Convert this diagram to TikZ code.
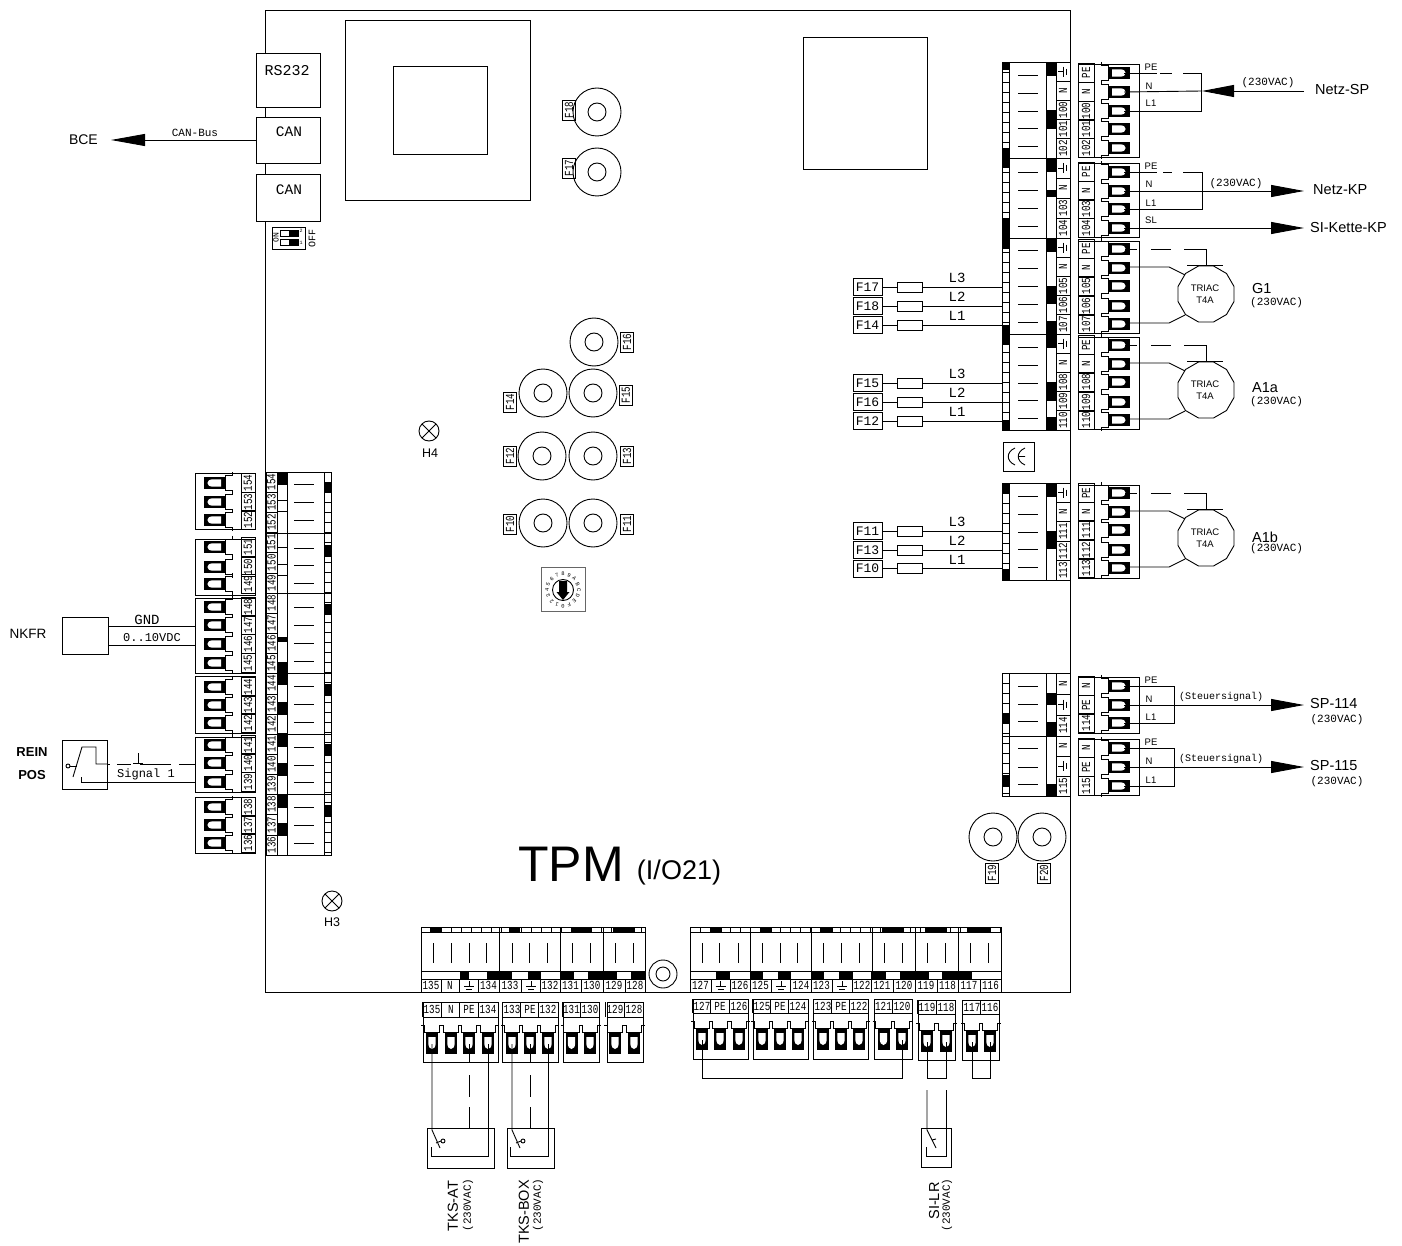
\documentclass[tikz,border=0pt]{standalone}
\usepackage{fontspec}
\setmainfont{Liberation Sans}
\newfontfamily\txtf{Liberation Mono}
\newfontfamily\txtn[FakeStretch=0.75]{Liberation Mono}
\usetikzlibrary{arrows.meta,shapes.geometric}
\newcounter{nn}
\tikzset{
  ln/.style={line width=0.9pt,black},
  bx/.style={ln,fill=white},
  num/.style={font=\txtn\fontsize{12.3}{12.3}\selectfont,inner sep=0pt,text=black},
  numr/.style={num,rotate=90},
  tx/.style={font=\txtf\fontsize{#1}{#1}\selectfont,inner sep=0pt,text=black},
  sa/.style={font=\fontsize{#1}{#1}\selectfont,inner sep=0pt,text=black},
  bigarrow/.style={ln,-{Triangle[length=33pt,width=12pt]}},
}
% generic named text
\newcommand\lab[4][]{\stepcounter{nn}\node[#1] (n\arabic{nn}) at (#2,#3) {#4};}
% terminals
\newcommand\termR[1]{%
  \fill[black] (1108,#1-6) rectangle (1130,#1+6);
  \fill[white] (1112,#1-3.7) -- (1120,#1-3.7) .. controls (1127.5,#1-3.7) and (1127.5,#1+3.7) .. (1120,#1+3.7) -- (1112,#1+3.7) -- cycle;
  \draw[ln] (1101,#1-11.1) -- (1101,#1-7.6) -- (1108,#1-7.6) -- (1108,#1+7.6) -- (1101,#1+7.6) -- (1101,#1+11.1);
  \coordinate (R#1) at (1124,#1);}
\newcommand\termL[1]{%
  \fill[black] (204,#1-6) rectangle (225,#1+6);
  \fill[white] (221,#1-3.7) -- (213,#1-3.7) .. controls (205.5,#1-3.7) and (205.5,#1+3.7) .. (213,#1+3.7) -- (221,#1+3.7) -- cycle;
  \draw[ln] (232,#1-11.1) -- (232,#1-7.6) -- (225,#1-7.6) -- (225,#1+7.6) -- (232,#1+7.6) -- (232,#1+11.1);}
\newcommand\termB[2]{% x, ytop
  \fill[black] (#1-6,#2) rectangle (#1+6,#2+22);
  \fill[white] (#1-3.7,#2+5) -- (#1-3.7,#2+11) .. controls (#1-3.7,#2+19) and (#1+3.7,#2+19) .. (#1+3.7,#2+11) -- (#1+3.7,#2+5) -- cycle;
  \draw[ln] (#1-11,#2-7) -- (#1-7.6,#2-7) -- (#1-7.6,#2) -- (#1+7.6,#2) -- (#1+7.6,#2-7) -- (#1+11,#2-7);
  \coordinate (B#1) at (#1,#2+12);}
% right plug: y0 y1 items
\newcommand\RP[3]{%
  \draw[bx] (1078,#1) rectangle (1139,#2);
  \foreach \yc/\l in {#3}{
    \draw[ln] (1078,\yc-9.4) rectangle (1094,\yc+9.4);
    \lab[numr]{1086}{\yc}{\l}
    \termR{\yc}
  }}
\newcommand\LP[3]{%
  \draw[bx] (195,#1) rectangle (255,#2);
  \foreach \yc/\l in {#3}{
    \draw[ln] (241,\yc-9.3) rectangle (255,\yc+9.3);
    \lab[numr]{248}{\yc}{\l}
    \termL{\yc}
  }}
% bottom plug: x0 x1 y0 y1 ylab ytop items
\newcommand\BP[7]{%
  \draw[bx] (#1,#3) rectangle (#2,#4);
  \draw[ln] (#1,#5) -- (#2,#5);
  \foreach \xc/\l in {#7}{
    \draw[ln] (\xc-9.2,#3) -- (\xc-9.2,#5);
    \lab[num]{\xc}{{(#3+#5)/2}}{\l}
    \termB{\xc}{#6}
  }}
% earth symbols
\newcommand\gndh[2]{\draw[ln] (#1-4,#2) -- (#1+1,#2) (#1+1,#2-5) -- (#1+1,#2+5) (#1+4,#2-3) -- (#1+4,#2+3);}
\newcommand\gndv[2]{\draw[ln] (#1,#2-4) -- (#1,#2+1) (#1-5,#2+1) -- (#1+5,#2+1) (#1-3,#2+4) -- (#1+3,#2+4);}
% fuse disc
\newcommand\disc[5]{% x y flabelx flabely text
  \draw[ln] (#1,#2) circle (24) (#1,#2) circle (9);
  \lab[numr,draw=black,line width=0.9pt,minimum width=20pt,minimum height=13pt,inner sep=0pt]{#3}{#4}{#5}}
% side fuse row
\newcommand\fuse[2]{% y, label
  \stepcounter{nn}\node[tx=13,draw=black,line width=0.9pt,fill=white,minimum width=29pt,minimum height=17pt] (f#2) at (867.5,#1) {#2};
  \coordinate (fe#2) at (1002,#1);
  \draw[ln] (f#2) -- (fe#2);
  \draw[bx] (897,#1-5) rectangle (922,#1+5);}
\begin{document}
\begin{tikzpicture}[x=1pt,y=-1pt]
\useasboundingbox (0,0) rectangle (1402,1246);
\fill[white] (0,0) rectangle (1402,1246);
% board
\draw[ln] (265.5,10) rectangle (1070,992);
% top-left connectors
\node[draw=black,line width=0.9pt,fill=white,minimum width=64pt,minimum height=54pt,tx=15,inner sep=0pt] (rs) at (288,80) {};
\lab[tx=15]{287}{71}{RS232}
\node[draw=black,line width=0.9pt,fill=white,minimum width=64pt,minimum height=46pt] (can1) at (288,140) {};
\lab[tx=14.5]{289}{132}{CAN}
\node[draw=black,line width=0.9pt,fill=white,minimum width=64pt,minimum height=47pt] (can2) at (288,197.5) {};
\lab[tx=14.5]{289}{190}{CAN}
% BCE
\lab[sa=14,anchor=east]{98}{140}{BCE}
\coordinate (bcetip) at (111,140);
\draw[ln,-{Triangle[length=34pt,width=12pt]}] (can1.west) -- (bcetip);
\lab[tx=11]{195}{133}{CAN-Bus}
% dip
\draw[ln,fill=white] (272,227) rectangle (305,249);
\foreach \y in {233,242}{
  \draw[ln] (280,\y-3) rectangle (298,\y+3);
  \fill[black] (289,\y-3) rectangle (298,\y+3);}
\lab[tx=8,rotate=90]{276}{238}{ON}
\lab[tx=10,rotate=90]{312}{238}{OFF}
\lab[tx=5]{301}{231}{2}
\lab[tx=5]{301}{243}{1}
% transformers
\draw[ln] (345,20) rectangle (530,200);
\draw[ln] (393,66) rectangle (487,154);
\draw[ln] (803,37) rectangle (927,169);
% discs
\disc{597}{112}{569}{110}{F18}
\disc{597}{172}{569}{168}{F17}
\disc{594}{342}{627}{342}{F16}
\disc{543}{393}{510}{402}{F14}
\disc{593}{393}{626}{395}{F15}
\disc{542}{456}{510}{456}{F12}
\disc{593}{456}{627}{456}{F13}
\disc{543}{523}{510}{524}{F10}
\disc{593}{523}{627}{524}{F11}
\disc{993}{837}{992}{873}{F19}
\disc{1042}{837}{1044}{873}{F20}
% lamps
\draw[ln] (429,431) circle (10) (421.9,423.9) -- (436.1,438.1) (421.9,438.1) -- (436.1,423.9);
\lab[sa=12.5]{430}{453}{H4}
\draw[ln] (332,901) circle (10) (324.9,893.9) -- (339.1,908.1) (324.9,908.1) -- (339.1,893.9);
\lab[sa=12.5]{332}{922}{H3}
% rotary
\draw[ln,black!60] (541,567) rectangle (585,611);
\draw[ln] (563,590) circle (10.5);
\foreach \i/\c in {0/0,1/1,2/2,3/3,4/4,5/5,6/6,7/7,8/8,9/9,10/A,11/B,12/C,13/D,14/E,15/F}{
  \pgfmathsetmacro\a{270-\i*22.5}
  \pgfmathsetmacro\rr{\a-90}
  \lab[tx=5.5,rotate=\rr]{{563+16*cos(\a)}}{{590-16*sin(\a)}}{\c}
}
\fill[black] (559,581) rectangle (567,592) (556.5,592) -- (569.5,592) -- (563,600) -- cycle;
% CE
\draw[ln] (1003,442) rectangle (1034,471);
\draw[ln] (1015,448) .. controls (1006,452) and (1006,461) .. (1015,465);
\draw[ln] (1025,448) .. controls (1016,452) and (1016,461) .. (1025,465) (1019,456.5) -- (1025,456.5);
% TPM
\lab[sa=50]{571}{864}{TPM}
\lab[sa=27]{679}{873}{(I/O21)}
\draw[ln] (663,974) circle (14) (663,974) circle (7);

% ---------- right board blocks
\foreach \a/\b in {62/158,158/238,238/334,334/430,483/580,673/736,736/796}{
  \draw[bx] (1002,\a) rectangle (1070,\b);
  \draw[ln] (1009,\a) -- (1009,\b) (1046,\a) -- (1046,\b) (1056,\a) -- (1056,\b);
}
\foreach \a/\b in {62/430,483/580,673/796}{
  \pgfmathsetmacro\sec{\a+10}
  \foreach \y in {\a,\sec,...,\b}{\draw[line width=0.5pt] (1002,\y) -- (1009,\y);}
}
\foreach \a/\b in {62/70,148/168,218/249,325/345,420/430,483/493,569/580,713/723,775/787}{
  \fill[black] (1002,\a) rectangle (1009,\b);}
\foreach \a/\b in {62/76,110/129,159/172,190/197,238/252,286/304,321/348,382/401,417/430,483/497,531/549,693/705,722/736,784/796}{
  \fill[black] (1046,\a) rectangle (1056,\b);}
\foreach \y in {75,93,111,128,146,172,190,208,226,250,268,286,304,322,347,365,383,400,418,496,514,532,549,567,686,704,721,748,767,784}{
  \draw[ln] (1018,\y) -- (1038,\y);}
\foreach \y/\h in {71.6/9.6,90.8/9.6,110/9.6,129.2/9.6,148.4/9.6,168/10,188/10,208/10,228/10,247.6/9.6,266.8/9.6,286/9.6,305.2/9.6,324.4/9.6,343.6/9.6,362.8/9.6,382/9.6,401.2/9.6,420.4/9.6,492.7/9.7,512.1/9.7,531.5/9.7,550.9/9.7,570.3/9.7,683.5/10.5,704.5/10.5,725.5/10.5,746/10,766/10,786/10}{
  \draw[ln] (1056,\y-\h) rectangle (1070,\y+\h);}
\foreach \y/\l in {90.8/N,110/100,129.2/101,148.4/102,188/N,208/103,228/104,266.8/N,286/105,305.2/106,324.4/107,362.8/N,382/108,401.2/109,420.4/110,512.1/N,531.5/111,550.9/112,570.3/113,683.5/N,725.5/114,746/N,786/115}{
  \lab[numr]{1063}{\y}{\l}}
\foreach \y in {71.6,168,247.6,343.6,492.7,704.5,766}{\gndh{1062}{\y}}

% ---------- right plugs
\RP{64}{157}{73/PE,92/N,111/100,129/101,148/102}
\RP{163}{237}{172/PE,191/N,209/103,228/104}
\RP{241}{333}{249/PE,268/N,286/105,306/106,324/107}
\RP{337}{429}{345/PE,364/N,382/108,402/109,420/110}
\RP{485}{578}{493/PE,512/N,530/111,550/112,568/113}
\RP{677}{733}{686/N,705/PE,723/114}
\RP{739}{795}{748/N,767/PE,786/115}

% right side wires
% Netz-SP
\lab[sa=14.5,anchor=west]{1315}{90}{Netz-SP}
\coordinate (sp) at (1304,91); \coordinate (sptip) at (1202,91);
\draw[ln] (R92) -- (sptip);
\draw[ln,-{Triangle[length=32pt,width=12pt]}] (sp) -- (sptip);
\draw[ln] (R73) -- (1157,73) (1160,73) -- (1172,73) (1183,73) -- (1201,73) -- (1201,111) -- (R111);
\lab[sa=9.5]{1151}{67}{PE}\lab[sa=9.5]{1149}{86}{N}\lab[sa=9.5]{1151}{103}{L1}
\lab[tx=11]{1268}{83}{(230VAC)}
% Netz-KP
\lab[sa=14.5,anchor=west]{1313}{190}{Netz-KP}
\lab[sa=14.5,anchor=west]{1310}{228}{SI-Kette-KP}
\coordinate (kp) at (1304,191); \coordinate (si) at (1304,228);
\draw[bigarrow] (R191) -- (kp);
\draw[bigarrow] (R228) -- (si);
\draw[ln] (R172) -- (1157,172) (1163,172) -- (1172,172) (1183,172) -- (1202,172) -- (1202,209) -- (R209);
\lab[sa=9.5]{1151}{166}{PE}\lab[sa=9.5]{1149}{184}{N}\lab[sa=9.5]{1151}{203}{L1}\lab[sa=9.5]{1151}{220}{SL}
\lab[tx=11]{1236}{184}{(230VAC)}
% motors
\foreach \dy/\nm/\ty/\vy in {0/G1/289/303,96/A1a/388/402,244/A1b/537/549}{
  \pgfmathsetmacro\cy{294+\dy}
  \node[regular polygon,regular polygon sides=12,draw=black,line width=0.9pt,minimum size=58pt,inner sep=0pt] (m\nm) at (1206,\cy) {};
  \lab[sa=9.5]{1205}{\cy-6}{TRIAC}
  \lab[sa=9.5]{1205}{\cy+6}{T4A}
  \lab[sa=14.5,anchor=west]{1252}{\ty}{\nm}
  \lab[tx=11,anchor=west]{1250}{\vy}{(230VAC)}
  \draw[ln] (1125,\cy-45) -- (1137,\cy-45) (1151,\cy-45) -- (1171,\cy-45) (1184,\cy-45) -- (1206,\cy-45) -- (1206,\cy-29) (1187,\cy-29) -- (1223,\cy-29);
  \draw[ln] (1125,\cy-27) -- (1169,\cy-27) -- (1185,\cy-19);
  \draw[ln] (1125,\cy+29) -- (1169,\cy+29) -- (1185,\cy+21);
}
% SP-114/115
\foreach \a/\b/\c/\n in {686/705/723/114,748/767/786/115}{
  \coordinate (e\n) at (1304,\b);
  \draw[bigarrow] (R\b) -- (e\n);
  \draw[ln] (R\a) -- (1174,\a) -- (1174,\c) -- (R\c);
  \lab[sa=9.5]{1151}{\a-6}{PE}\lab[sa=9.5]{1149}{\b-6}{N}\lab[sa=9.5]{1151}{\c-6}{L1}
  \lab[tx=10]{1221}{\b-8}{(Steuersignal)}
  \lab[sa=14.5,anchor=west]{1310}{\b-1}{SP-\n}
  \lab[tx=11]{1337}{\b+15}{(230VAC)}
}
% side fuses
\fuse{287}{F17}\fuse{306}{F18}\fuse{325}{F14}
\fuse{383}{F15}\fuse{402}{F16}\fuse{421}{F12}
\fuse{531}{F11}\fuse{550}{F13}\fuse{568.5}{F10}
\foreach \y in {287,383,531}{
  \lab[tx=14]{957}{\y-9}{L3}
  \lab[tx=14]{957}{\y+10}{L2}
  \lab[tx=14]{957}{\y+29}{L1}}

% ---------- left board
\draw[bx] (266,472) rectangle (331,855);
\draw[ln] (277,472) -- (277,855) (287,472) -- (287,855) (324,472) -- (324,855);
\foreach \y in {533,593,673.5,734,794.5}{\draw[ln] (266,\y) -- (331,\y);}
\foreach \y in {472,482,...,855}{\draw[line width=0.5pt] (324,\y) -- (331,\y);}
\foreach \y in {500.7,511.7,547,564,575.7}{\draw[line width=0.5pt] (277,\y) -- (287,\y);}
\foreach \a/\b in {472/485,637/642,662/685,702/715,733/747,763/776,794/808,823/836}{
  \fill[black] (277,\a) rectangle (287,\b);}
\foreach \a/\b in {482/493,545/557,604/615,684/696,744/756,805/817}{
  \fill[black] (324,\a) rectangle (331,\b);}
\foreach \y in {484,502,520,548,565,583,607,625,643,661,686,704,722,747,765,782,807,825,843}{
  \draw[ln] (294,\y) -- (314,\y);}
\foreach \i/\l in {0/154,1/153,2/152,3/151,4/150,5/149,6/148,7/147,8/146,9/145,10/144,11/143,12/142,13/141,14/140,15/139,16/138,17/137,18/136}{
  \pgfmathsetmacro\yy{472+20.16*\i+10.08}
  \pgfmathsetmacro\yt{472+20.16*\i}
  \draw[line width=0.5pt] (266,\yt) -- (277,\yt);
  \lab[numr]{271.5}{\yy}{\l}
}
% left plugs
\LP{473}{529}{483/154,502/153,520/152}
\LP{539}{595}{547/151,567/150,584/149}
\LP{598}{673}{607/148,625/147,644/146,663/145}
\LP{676}{733}{687/144,705/143,723/142}
\LP{737}{792}{745/141,763/140,782/139}
\LP{797}{853}{807/138,825/137,843/136}
% NKFR
\lab[sa=13.5]{28}{634}{NKFR}
\node[draw=black,line width=0.9pt,fill=white,minimum width=46pt,minimum height=37pt] (nk) at (85,635.5) {};
\coordinate (nkg1) at (108,626); \coordinate (nkg2) at (195,626);
\coordinate (nkv1) at (108,645); \coordinate (nkv2) at (195,645);
\draw[ln] (nkg1) -- (nkg2) (nkv1) -- (nkv2);
\lab[tx=14]{147}{620}{GND}
\lab[tx=12]{152}{638}{0..10VDC}
% REIN POS
\lab[sa=13,font=\bfseries\fontsize{13}{13}\selectfont]{32}{752}{REIN}
\lab[sa=13,font=\bfseries\fontsize{13}{13}\selectfont]{32}{775}{POS}
\node[draw=black,line width=0.9pt,fill=white,minimum width=45pt,minimum height=49pt] (rp) at (84.5,764.5) {};
\draw[ln] (107,764) -- (96,764) -- (96,747) -- (82,747) -- (73,777);
\draw[ln] (70,766) -- (77,766);
\draw[ln,fill=white] (68,766) circle (2);
\draw[ln] (81,777) -- (81,782) -- (195,782);
\draw[ln] (107,764) -- (110,764) (117,764) -- (131,764) (140,764) -- (171,764) (179,764) -- (195,764);
\draw[ln] (138,753) -- (138,763) (133,763) -- (143,763);
\lab[tx=12]{146}{774}{Signal 1}

% ---------- bottom board, left
\draw[bx] (421,927) rectangle (645,992);
\draw[ln] (421,932) -- (645,932) (421,971) -- (645,971) (421,979) -- (645,979);
\foreach \x in {499,560,603}{\draw[ln] (\x,927) -- (\x,971);}
\foreach \x in {431,441,...,645}{\draw[line width=0.5pt] (\x,927) -- (\x,932);}
\foreach \a/\b in {430/441,509/520,571/592,613/635}{\fill[black] (\a,927) rectangle (\b,932);}
\foreach \a/\b in {460/469,487/512,528/541,560/574,588/617,631/645}{\fill[black] (\a,971) rectangle (\b,979);}
\foreach \x in {433,451,469,486,512,529,547,572,590,615,633}{\draw[ln] (\x,943) -- (\x,963);}
\foreach \a/\b in {421/441,441/459.5,459.5/478,478/499,499/521.5,521.5/540.5,540.5/560,560/581,581/603,603/625,625/645}{
  \draw[ln] (\a,979) rectangle (\b,992);}
\foreach \x/\l in {431/135,450/N,488.5/134,510/133,550/132,570.5/131,592/130,614/129,635/128}{
  \lab[num]{\x}{985.5}{\l}}
\gndv{469}{985}\gndv{531}{985}
% bottom board, right
\draw[bx] (690,927) rectangle (1001,992);
\draw[ln] (690,932) -- (1001,932) (690,971) -- (1001,971) (690,979) -- (1001,979);
\foreach \x in {750,811,872,915,958}{\draw[ln] (\x,927) -- (\x,971);}
\foreach \x in {700,710,...,1001}{\draw[line width=0.5pt] (\x,927) -- (\x,932);}
\foreach \a/\b in {710/722,760/772,821/833,882/904,925/947,967/990}{\fill[black] (\a,927) rectangle (\b,932);}
\foreach \a/\b in {716/730,750/763,778/791,811/824,839/853,871/886,900/929,942/972}{\fill[black] (\a,971) rectangle (\b,979);}
\foreach \x in {702,719,738,762,780,797,823,841,859,884,902,927,945,970,988}{\draw[ln] (\x,943) -- (\x,963);}
\foreach \a/\b in {690/711,711/730.5,730.5/750,750/771,771/790.5,790.5/811,811/832,832/852,852/871.5,871.5/893,893/915,915/937,937/958,958/980,980/1001}{
  \draw[ln] (\a,979) rectangle (\b,992);}
\foreach \x/\l in {700.5/127,740/126,760.5/125,801/124,821.5/123,862/122,882/121,904/120,926/119,947.5/118,969/117,990.5/116}{
  \lab[num]{\x}{985.5}{\l}}
\gndv{720.5}{985}\gndv{781}{985}\gndv{842}{985}
% bottom plugs
\BP{423}{498}{1002}{1062}{1017}{1032}{432/135,451/N,469/PE,488/134}
\BP{502}{558}{1002}{1062}{1017}{1032}{512/133,530/PE,548/132}
\BP{563}{599}{1002}{1062}{1017}{1032}{571.5/131,590/130}
\BP{607}{643}{1002}{1062}{1017}{1032}{615/129,634/128}
\BP{693}{748}{999}{1059}{1013}{1028}{702/127,720/PE,739/126}
\BP{753}{808}{999}{1059}{1013}{1028}{762/125,780/PE,798/124}
\BP{813}{868}{999}{1059}{1013}{1028}{823/123,841/PE,859/122}
\BP{874}{912}{999}{1059}{1013}{1028}{883.5/121,902/120}
\BP{918}{955}{1000}{1060}{1014}{1030}{927/119,946/118}
\BP{962}{999}{1000}{1060}{1014}{1030}{972/117,990/116}
% jumpers
\draw[ln] (B702) |- (902,1078) -- (B902);
\draw[ln] (B927) |- (946,1078) -- (B946);
\draw[ln] (B972) |- (990,1078) -- (B990);
% TKS-AT
\node[draw=black,line width=0.9pt,minimum width=67pt,minimum height=40pt] (tksat) at (460.5,1148) {};
\node[draw=black,line width=0.9pt,minimum width=47pt,minimum height=40pt] (tksbox) at (530.5,1148) {};
\node[draw=black,line width=0.9pt,minimum width=30pt,minimum height=39pt] (silr) at (936,1147.5) {};
\draw[ln] (B432) -- (432,1130) -- (440,1148);
\draw[ln] (436,1143) -- (441,1141);
\draw[ln,fill=white] (443,1141) circle (2);
\draw[ln] (431,1147) -- (431,1156) -- (488,1156) -- (B488);
\draw[ln] (B469) -- (469,1063) (469,1075) -- (469,1097) (469,1107) -- (469,1128);
\draw[ln] (B512) -- (512,1130) -- (520,1148);
\draw[ln] (516,1143) -- (521,1141);
\draw[ln,fill=white] (523,1141) circle (2);
\draw[ln] (510,1147) -- (510,1156) -- (548,1156) -- (B548);
\draw[ln] (B530) -- (530,1063) (530,1075) -- (530,1097) (530,1107) -- (530,1128);
\draw[ln] (927,1090) -- (927,1130) -- (936,1148) (932,1140) -- (936,1139);
\draw[ln] (946,1090) -- (946,1156) -- (926,1156) -- (926,1147);
\lab[sa=14.5,rotate=90]{453}{1206}{TKS-AT}
\lab[tx=11,rotate=90]{468}{1205}{(230VAC)}
\lab[sa=14.5,rotate=90]{524}{1212}{TKS-BOX}
\lab[tx=11,rotate=90]{538}{1205}{(230VAC)}
\lab[sa=14.5,rotate=90]{934}{1201}{SI-LR}
\lab[tx=11,rotate=90]{947}{1205}{(230VAC)}
\end{tikzpicture}
\end{document}
